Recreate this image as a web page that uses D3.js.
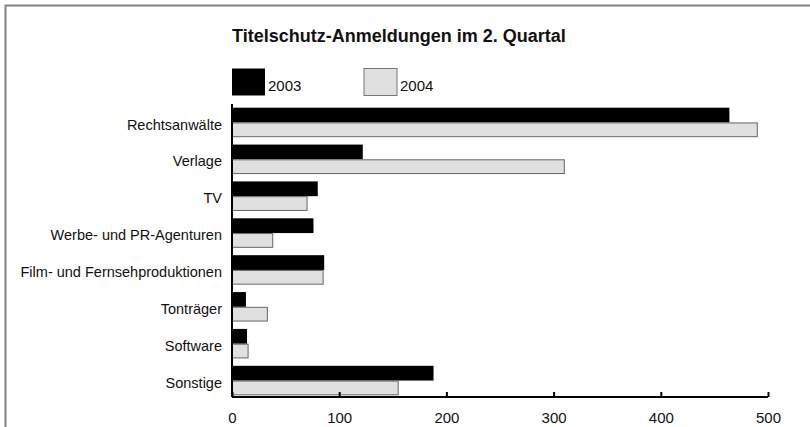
<!DOCTYPE html>
<html lang="de">
<head>
<meta charset="utf-8">
<title>Titelschutz-Anmeldungen im 2. Quartal</title>
<script src="https://cdn.jsdelivr.net/npm/d3@7"></script>
<style>
  body { margin: 0; background: #fff; }
  svg text { font-family: "Liberation Sans", Arial, sans-serif; fill: #111; }
  .axis path, .axis line { stroke: #000; stroke-width: 2; }
  .axis text { font-size: 15px; }
</style>
</head>
<body>
<script>
// Daten
var categories = ["Rechtsanwälte", "Verlage", "TV", "Werbe- und PR-Agenturen",
                  "Film- und Fernsehproduktionen", "Tonträger", "Software", "Sonstige"];
var years = ["2003", "2004"];
var values2003 = [464, 122, 80, 76, 86, 13, 14, 188];
var values2004 = [490, 310, 70, 38, 85, 33, 15, 155];
var xTicks = [0, 100, 200, 300, 400, 500];

var w = 810, h = 427;
var colors = {"2003": "#000", "2004": "#e0e0e0"};

var svg = d3.select("body").append("svg")
  .attr("width", w).attr("height", h);

// frame (top + left only)
svg.append("path")
  .attr("d", "M5.5," + h + "V5.5H" + w)
  .attr("fill", "none").attr("stroke", "#808080").attr("stroke-width", 2);

svg.append("text")
  .attr("x", 232).attr("y", 42)
  .attr("font-size", "18px").attr("font-weight", "bold")
  .text("Titelschutz-Anmeldungen im 2. Quartal");

var x = d3.scaleLinear().domain([0, 500]).range([232, 768]);
var y = d3.scaleBand().domain(categories).range([104, 399])
  .paddingInner(0.2).paddingOuter(0.1);
var ySub = d3.scaleBand().domain(years).range([0, y.bandwidth()]);

var rows = categories.map(function(c, i) {
  return {cat: c, vals: [{year: "2003", v: values2003[i]}, {year: "2004", v: values2004[i]}]};
});

// legend
var legendX = [232, 364];
years.forEach(function(yr, i) {
  svg.append("rect")
    .attr("x", legendX[i]).attr("y", 68.5)
    .attr("width", 33).attr("height", 27)
    .attr("fill", colors[yr])
    .attr("stroke", yr === "2004" ? "#777" : "none");
  svg.append("text")
    .attr("x", legendX[i] + 36).attr("y", 91)
    .attr("font-size", "15px")
    .text(yr);
});

// bars
var g = svg.selectAll("g.row").data(rows).enter().append("g")
  .attr("class", "row")
  .attr("transform", function(d) { return "translate(0," + y(d.cat) + ")"; });

g.selectAll("rect").data(function(d) { return d.vals; }).enter().append("rect")
  .attr("x", x(0))
  .attr("y", function(d) { return ySub(d.year) + (d.year === "2004" ? 0.5 : 0); })
  .attr("width", function(d) { return x(d.v) - x(0); })
  .attr("height", function(d) { return ySub.bandwidth() - (d.year === "2004" ? 1 : 0); })
  .attr("fill", function(d) { return colors[d.year]; })
  .attr("stroke", function(d) { return d.year === "2004" ? "#666" : "none"; })
  .attr("stroke-width", 1);

// category labels
g.append("text")
  .attr("x", 222).attr("y", y.bandwidth() / 2 + 2)
  .attr("dy", "0.35em")
  .attr("text-anchor", "end")
  .attr("font-size", "14.5px")
  .text(function(d) { return d.cat; });

// x axis, ticks pointing up
var xAxis = d3.axisBottom(x).tickValues(xTicks).tickSize(-5).tickPadding(12)
  .tickFormat(d3.format("d"));
svg.append("g").attr("class", "axis")
  .attr("transform", "translate(0,397)")
  .call(xAxis)
  .call(function(s) { s.select(".domain").attr("d", "M" + x(0) + ",0H" + x(500)); })
  .selectAll("text").attr("dy", "0.9em");

// y axis line
svg.append("line")
  .attr("x1", x(0)).attr("x2", x(0))
  .attr("y1", 104).attr("y2", 397)
  .attr("stroke", "#000").attr("stroke-width", 2);
</script>
</body>
</html>
